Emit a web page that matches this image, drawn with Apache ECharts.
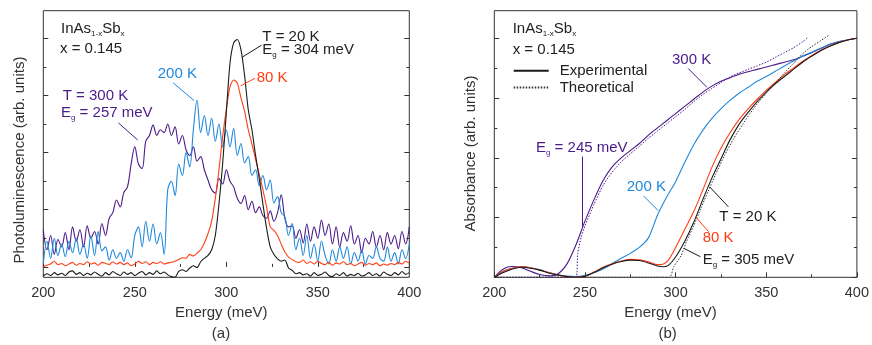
<!DOCTYPE html>
<html><head><meta charset="utf-8">
<script src="https://cdn.jsdelivr.net/npm/echarts@6/dist/echarts.min.js"></script>
<style>html,body{margin:0;padding:0;background:#fff}#c{width:872px;height:345px}</style>
</head><body><div id="c"></div>
<script>
// ---------- Panel (a): photoluminescence ----------
const energyA = [
200,202,204,206,208,210,212,214,216,218,
220,222,224,226,228,230,232,234,236,238,
240,242,244,246,248,250,252,254,256,258,
260,262,264,266,268,270,272,274,276,278,
280,282,284,286,288,290,292,294,296,298,
300,302,304,306,308,310,312,314,316,318,
320,322,324,326,328,330,332,334,336,338,
340,342,344,346,348,350,352,354,356,358,
360,362,364,366,368,370,372,374,376,378,
380,382,384,386,388,390,392,394,396,398,
400];
const pl20K = [
-0.16,-0.12,-0.15,-0.10,-0.14,-0.11,-0.15,-0.09,-0.07,-0.13,
-0.10,-0.15,-0.11,-0.14,-0.09,-0.13,-0.16,-0.10,-0.14,-0.08,
-0.12,-0.15,-0.09,-0.13,-0.10,-0.15,-0.11,-0.08,-0.14,-0.10,
-0.13,-0.07,-0.12,-0.09,-0.14,-0.17,-0.18,-0.08,-0.05,-0.08,
-0.02,0.02,-0.01,0.09,0.15,0.20,0.30,0.55,1.10,1.80,
2.70,3.56,3.92,3.98,3.80,3.35,2.75,2.40,1.95,1.55,
1.10,0.68,0.35,0.22,0.14,0.10,0.12,-0.02,-0.06,-0.12,
-0.10,-0.14,-0.12,-0.16,-0.10,-0.15,-0.13,-0.09,-0.15,-0.17,
-0.12,-0.15,-0.10,-0.16,-0.13,-0.15,-0.11,-0.16,-0.14,-0.10,
-0.15,-0.12,-0.16,-0.09,-0.13,-0.15,-0.10,-0.14,-0.08,-0.13,
-0.10];
const pl80K = [
0.00,0.03,0.05,0.10,0.04,0.06,0.02,0.05,0.08,0.03,
0.06,0.04,0.09,0.05,0.07,0.03,0.08,0.06,0.04,0.09,
0.05,0.08,0.04,0.07,0.02,0.05,0.10,0.06,0.09,0.04,
0.08,0.06,0.09,0.05,0.07,0.08,0.10,0.13,0.16,0.15,
0.22,0.19,0.24,0.30,0.42,0.58,0.80,1.20,1.70,2.28,
2.75,3.15,3.27,3.22,2.96,2.72,2.40,2.15,1.88,1.62,
1.35,1.05,0.70,0.64,0.55,0.40,0.26,0.17,0.13,0.09,
0.08,0.12,0.06,0.09,0.05,0.10,0.06,0.04,0.08,0.03,
0.07,0.05,0.09,0.04,0.06,0.02,0.05,0.08,0.03,0.06,
0.04,0.07,0.02,0.05,0.03,0.06,0.04,0.08,0.05,0.10,
0.07];
const pl200K = [
0.05,0.45,0.15,0.50,0.20,0.40,0.18,0.45,0.25,0.50,
0.22,0.40,0.15,0.55,0.20,0.62,0.28,0.35,0.12,0.30,
0.15,0.25,0.10,0.30,0.16,0.55,0.70,0.35,0.80,0.45,
0.75,0.40,0.60,0.22,1.35,1.50,1.25,1.80,1.60,2.00,
1.75,2.40,2.92,2.35,2.65,2.30,2.60,2.20,2.50,2.10,
2.40,2.10,2.42,1.95,2.16,1.82,1.93,1.60,1.70,1.42,
1.60,1.35,1.52,1.12,1.23,0.95,0.88,0.55,0.76,0.30,
0.50,0.20,0.55,0.15,0.40,0.10,0.45,0.20,0.05,0.30,
0.10,0.35,0.15,0.35,0.05,0.25,0.10,0.30,0.05,0.20,
0.15,0.35,0.15,0.10,0.35,0.10,0.25,0.05,0.30,0.15,
0.40];
const pl300K = [
0.65,0.30,0.55,0.22,0.48,0.35,0.60,0.30,0.70,0.45,
0.65,0.35,0.72,0.50,0.62,0.40,0.76,0.55,0.85,0.95,
1.17,1.05,1.30,1.40,1.80,2.10,1.80,1.72,2.20,2.30,
2.48,2.30,2.40,2.35,2.50,2.30,2.45,2.15,2.30,2.05,
1.95,2.10,1.85,1.93,1.70,1.52,1.35,1.29,1.55,1.45,
1.70,1.50,1.40,1.20,1.11,1.25,1.00,1.15,0.95,1.05,
0.90,0.85,0.98,0.80,0.95,1.26,0.85,0.70,0.72,0.50,
0.65,0.42,0.75,0.45,0.70,0.50,0.82,0.55,0.75,0.40,
0.70,0.35,0.60,0.45,0.72,0.40,0.55,0.25,0.50,0.40,
0.62,0.35,0.55,0.30,0.60,0.40,0.55,0.32,0.62,0.40,
0.70];

// ---------- Panel (b): absorbance ----------
const energyB = [200,205,210,215,220,225,230,235,240,245,250,255,260,265,270,275,280,285,290,295,
300,305,310,315,320,325,330,335,340,345,350,355,360,365,370,375,380,385,390,395,400];
const abs300K = [0,0.035,0.045,0.04,0.025,0.012,0.006,0.014,0.055,0.135,
0.235,0.325,0.405,0.462,0.50,0.53,0.56,0.595,0.625,0.655,
0.685,0.715,0.745,0.775,0.80,0.82,0.835,0.85,0.86,0.87,
0.88,0.89,0.90,0.91,0.925,0.94,0.957,0.975,0.985,0.993,1.0];
const abs200K = [0,0.025,0.038,0.045,0.04,0.032,0.02,0.01,0.005,0.003,
0.008,0.02,0.035,0.058,0.08,0.10,0.125,0.165,0.26,0.335,
0.40,0.48,0.555,0.615,0.665,0.705,0.74,0.77,0.795,0.82,
0.84,0.862,0.884,0.905,0.925,0.942,0.958,0.974,0.986,0.994,1.0];
const energyB80 = [200,205,210,215,220,225,230,235,240,245,250,255,260,265,270,275,280,285,290,293,296,
300,305,310,315,320,325,330,335,340,345,350,355,360,365,370,375,380,385,390,395,400];
const abs80K = [0,0.025,0.038,0.045,0.04,0.03,0.02,0.01,0.003,0,
0.005,0.022,0.042,0.057,0.068,0.075,0.073,0.065,0.053,0.055,0.072,
0.125,0.20,0.275,0.365,0.46,0.54,0.605,0.66,0.705,0.745,
0.782,0.815,0.848,0.875,0.903,0.927,0.95,0.968,0.983,0.993,1.0];
const energyB20 = [200,205,210,215,220,225,230,235,240,245,250,255,260,265,270,275,280,285,290,293,296,
300,305,310,315,320,325,330,335,340,345,350,355,360,365,370,375,380,385,390,395,400];
const abs20K = [0,0.02,0.035,0.042,0.038,0.03,0.018,0.01,0.003,0,
0.004,0.02,0.04,0.055,0.066,0.072,0.07,0.06,0.047,0.044,0.05,
0.085,0.15,0.23,0.325,0.415,0.495,0.575,0.64,0.69,0.735,
0.775,0.81,0.84,0.87,0.90,0.925,0.948,0.967,0.982,0.993,1.0];
const energyTheory300K = [200,245,246,248,250,255,260,265,270,275,280,285,290,295,300,305,310,315,320,325,330,335,340,345,350,355,360,365,370,373];
const absTheory300K = [0,0,0.10,0.17,0.215,0.305,0.385,0.44,0.483,0.517,0.548,0.582,0.612,0.642,0.672,0.702,0.735,0.765,0.79,0.815,0.838,0.855,0.87,0.885,0.90,0.92,0.94,0.96,0.985,1.004];
const energyTheory20K = [200,296.5,299,303,306,310,314,318,322,327,332,337,341,345,350,355,360,365,370,375,380,385];
const absTheory20K = [0,0,0.045,0.09,0.15,0.215,0.29,0.36,0.43,0.51,0.58,0.64,0.685,0.725,0.77,0.812,0.855,0.895,0.935,0.965,0.99,1.015];

const xTicks = [200,250,300,350,400];
const plMajor = [0,1,2,3,4], plMinor = [0.5,1.5,2.5,3.5];
const absMajor = [0,0.25,0.5,0.75,1], absMinor = [0.125,0.375,0.625,0.875];

// ---------- styling ----------
const FONT = "'Liberation Sans', Arial, Helvetica, sans-serif";
const C = {purple:'#4a1a8a', blue:'#1e88dc', orange:'#ff3d14', black:'#1a1a1a', text:'#222', axis:'#333'};
const PL_MIN = -0.182, PL_MAX = 4.483, AB_MIN = 0, AB_MAX = 1.1155;

const pairs = (xs, ys) => xs.map((x, i) => [x, ys[i]]);

function xAx(grid) {
  return {gridIndex:grid, type:'value', min:xTicks[0], max:xTicks[xTicks.length-1], interval:xTicks[1]-xTicks[0],
    axisLine:{show:false}, splitLine:{show:false},
    axisTick:{show:true, inside:true, length:5, lineStyle:{color:C.axis}},
    minorTick:{show:true, splitNumber:2, length:3, lineStyle:{color:C.axis}},
    axisLabel:{margin:8, color:C.axis, fontSize:14.5, fontFamily:FONT},
    name:'Energy (meV)', nameLocation:'middle', nameGap:25,
    nameTextStyle:{fontSize:15, color:C.axis, fontFamily:FONT, padding:[0,10,0,0]}};
}
function yAx(grid, pos, min, max, vals, len, extra) {
  return Object.assign({gridIndex:grid, type:'value', position:pos, min, max,
    axisLine:{show:false}, axisLabel:{show:false}, splitLine:{show:false},
    axisTick:{show:true, inside:true, length:len, customValues:vals, lineStyle:{color:C.axis}}}, extra||{});
}
function mk(color, segs) {
  return {silent:true, symbol:['none','none'], label:{show:false}, animation:false,
    lineStyle:{color, width:1, type:'solid'}, emphasis:{disabled:true},
    data:segs.map(s => [{coord:s[0]}, {coord:s[1]}])};
}
function ser(name, data, color, xi, yi, opts) {
  return Object.assign({type:'line', name, data, xAxisIndex:xi, yAxisIndex:yi, symbol:'none', showSymbol:false,
    lineStyle:{color, width:1.1}, itemStyle:{color}, emphasis:{disabled:true}, z:3}, opts||{});
}
const richS = (color) => ({
  m:{fontSize:15, fontFamily:FONT, color, lineHeight:18, verticalAlign:'middle'},
  s:{fontSize:8, fontFamily:FONT, color, lineHeight:8, verticalAlign:'bottom'}
});
function lab(text, left, top, color) {
  return {text, left, top, padding:0, itemGap:0,
    textStyle:{fontSize:15, fontWeight:'normal', fontFamily:FONT, color, lineHeight:18, rich:richS(color)}};
}

const option = {
  animation:false,
  backgroundColor:'#fff',
  grid:[
    {left:43.3, top:10.7, width:366, height:266.6, show:true, borderColor:C.axis, borderWidth:1, backgroundColor:'transparent'},
    {left:494.3, top:10.7, width:366.7, height:266.6, show:true, borderColor:C.axis, borderWidth:1, backgroundColor:'transparent'}
  ],
  xAxis:[xAx(0), xAx(1)],
  yAxis:[
    yAx(0,'left',PL_MIN,PL_MAX,plMajor,5,{name:'Photoluminescence (arb. units)', nameLocation:'middle', nameGap:16,
      nameTextStyle:{fontSize:15, color:C.axis, fontFamily:FONT, padding:[0,32,0,0]}}),
    yAx(0,'left',PL_MIN,PL_MAX,plMinor,3),
    yAx(0,'right',PL_MIN,PL_MAX,plMajor,5),
    yAx(0,'right',PL_MIN,PL_MAX,plMinor,3),
    yAx(1,'left',AB_MIN,AB_MAX,absMajor,5,{name:'Absorbance (arb. units)', nameLocation:'middle', nameGap:16,
      nameTextStyle:{fontSize:15, color:C.axis, fontFamily:FONT, padding:[0,19,0,0]}}),
    yAx(1,'left',AB_MIN,AB_MAX,absMinor,3),
    yAx(1,'right',AB_MIN,AB_MAX,absMajor,5),
    yAx(1,'right',AB_MIN,AB_MAX,absMinor,3)
  ],
  legend:{left:512.7, top:62.8, orient:'vertical', padding:0, itemWidth:35, itemHeight:14, itemGap:0.7,
    selectedMode:false, data:['Experimental','Theoretical'],
    itemStyle:{opacity:0, borderWidth:0},
    textStyle:{fontSize:15, color:C.text, fontFamily:FONT, lineHeight:16, padding:[0,0,0,6]}},
  title:[
    lab('{m|InAs}{s|1-x}{m|Sb}{s|x}', 61, 19.8, C.text),
    lab('x = 0.145', 60, 40.3, C.text),
    lab('T = 20 K', 262.3, 27.7, C.text),
    lab('{m|E}{s|g}{m| = 304 meV}', 262.3, 41, C.text),
    lab('80 K', 256.7, 68.5, C.orange),
    lab('200 K', 157.7, 65, C.blue),
    lab('T = 300 K', 62.7, 86.8, C.purple),
    lab('{m|E}{s|g}{m| = 257 meV}', 61, 103.5, C.purple),
    lab('(a)', 211.8, 325, C.axis),
    lab('{m|InAs}{s|1-x}{m|Sb}{s|x}', 512.7, 20, C.text),
    lab('x = 0.145', 512.7, 40.7, C.text),
    lab('300 K', 672, 51, C.purple),
    lab('{m|E}{s|g}{m| = 245 meV}', 536, 138.5, C.purple),
    lab('200 K', 626.7, 178, C.blue),
    lab('T = 20 K', 719.3, 207.8, C.text),
    lab('80 K', 702.7, 228.8, C.orange),
    lab('{m|E}{s|g}{m| = 305 meV}', 702.7, 250.5, C.text),
    lab('(b)', 658.5, 325, C.axis)
  ],
  series:[
    ser('PL 300 K', pairs(energyA, pl300K), C.purple, 0, 0, {smooth:0.35, markLine:mk(C.purple, [[[241,2.52],[251.6,2.22]]])}),
    ser('PL 200 K', pairs(energyA, pl200K), C.blue, 0, 0, {smooth:0.35, markLine:mk(C.blue, [[[271,3.22],[282.4,2.91]]])}),
    ser('PL 80 K', pairs(energyA, pl80K), C.orange, 0, 0, {smooth:0.25, markLine:mk(C.orange, [[[307.9,3.17],[315.7,3.30]]])}),
    ser('PL 20 K', pairs(energyA, pl20K), C.black, 0, 0, {smooth:0.25, markLine:mk(C.black, [[[308.7,3.67],[319.3,3.88]]])}),
    ser('Abs 300 K', pairs(energyB, abs300K), C.purple, 1, 4, {smooth:0.3,
      markLine:mk(C.purple, [[[306.9,0.874],[317.3,0.795]], [[248.4,0.505],[248.4,0.212]]])}),
    ser('Abs 200 K', pairs(energyB, abs200K), C.blue, 1, 4, {smooth:0.3, markLine:mk(C.blue, [[[282.4,0.34],[290.4,0.279]]])}),
    ser('Abs 80 K', pairs(energyB80, abs80K), C.orange, 1, 4, {smooth:0.3, markLine:mk(C.orange, [[[310.9,0.254],[318.2,0.191]]])}),
    ser('Experimental', pairs(energyB20, abs20K), C.black, 1, 4, {smooth:0.3,
      markLine:mk(C.black, [[[318.7,0.379],[329.1,0.295]], [[304.6,0.121],[313.7,0.086]]])}),
    ser('Theory 300 K', pairs(energyTheory300K, absTheory300K), C.purple, 1, 4,
      {smooth:0.2, lineStyle:{color:C.purple, width:1, type:[1.5,1.5]}, z:4}),
    ser('Theoretical', pairs(energyTheory20K, absTheory20K), C.black, 1, 4,
      {smooth:0.2, lineStyle:{color:'#333', width:1, type:[1.5,1.5]}, z:4})
  ]
};
const chart = echarts.init(document.getElementById('c'), null, {renderer:'canvas'});
chart.setOption(option);
</script></body></html>
